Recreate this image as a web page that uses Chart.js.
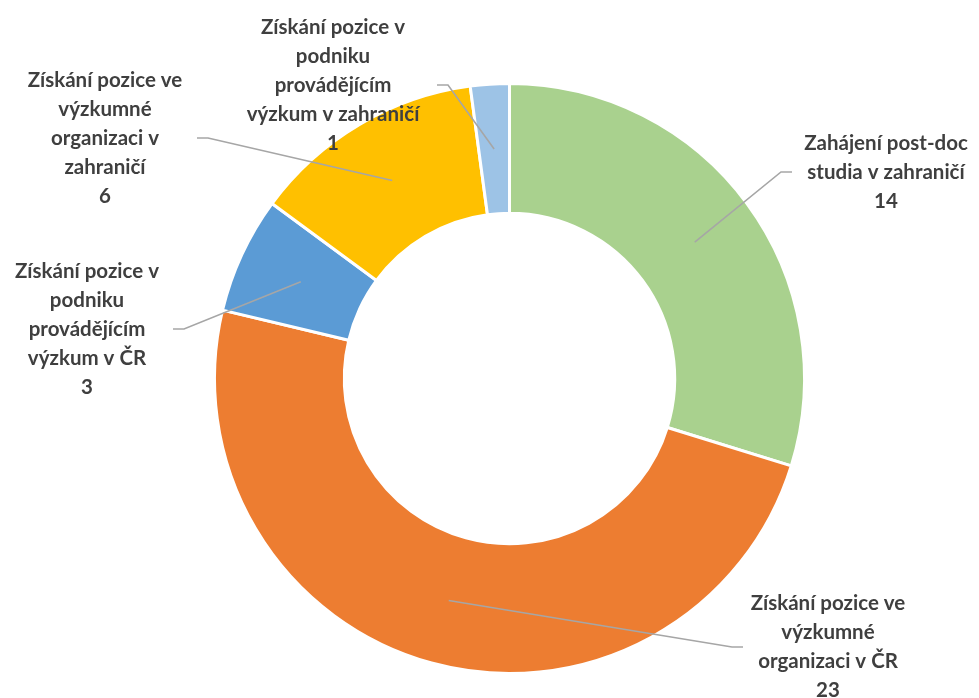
<!DOCTYPE html>
<html>
<head>
<meta charset="utf-8">
<script src="https://cdn.jsdelivr.net/npm/chart.js@4"></script>
<style>
  html, body { margin: 0; padding: 0; background: #ffffff; }
  #wrap { width: 979px; height: 698px; position: relative; }
</style>
</head>
<body>
<div id="wrap"><canvas id="c"></canvas></div>
<script>
// ---- Data ----
const categories = [
  ["Zahájení post-doc", "studia v zahraničí"],
  ["Získání pozice ve", "výzkumné", "organizaci v ČR"],
  ["Získání pozice v", "podniku", "provádějícím", "výzkum v ČR"],
  ["Získání pozice ve", "výzkumné", "organizaci v", "zahraničí"],
  ["Získání pozice v", "podniku", "provádějícím", "výzkum v zahraničí"]
];
const values = [14, 23, 3, 6, 1];
const colors = ["#A9D18E", "#ED7D31", "#5B9BD5", "#FFC000", "#9DC3E6"];

// ---- Label layout (positions only) ----
const labelLayout = [
  { cx: 886, cy: 172, lx: 792, dir: -1 },
  { cx: 828, cy: 647, lx: 743, dir: -1 },
  { cx: 87,  cy: 329, lx: 173, dir: 1 },
  { cx: 105, cy: 138, lx: 197, dir: 1 },
  { cx: 333, cy: 85,  lx: 437, dir: 1 }
];

const calloutPlugin = {
  id: 'callouts',
  afterDatasetsDraw(chart) {
    const ctx = chart.ctx;
    const meta = chart.getDatasetMeta(0);
    const ds = chart.data.datasets[0];
    ctx.save();
    meta.data.forEach((arc, i) => {
      const L = labelLayout[i];
      const p = arc.getProps(['x', 'y', 'startAngle', 'endAngle', 'innerRadius', 'outerRadius'], true);
      const mid = (p.startAngle + p.endAngle) / 2;
      const r = (p.innerRadius + p.outerRadius) / 2;
      const ax = p.x + Math.cos(mid) * r;
      const ay = p.y + Math.sin(mid) * r;
      // leader line
      ctx.strokeStyle = '#A6A6A6';
      ctx.lineWidth = 1.6;
      ctx.beginPath();
      ctx.moveTo(L.lx, L.cy);
      ctx.lineTo(L.lx + L.dir * 11, L.cy);
      ctx.lineTo(ax, ay);
      ctx.stroke();
      // text
      const lines = chart.data.labels[i].concat([String(ds.data[i])]);
      const lh = 29;
      ctx.fillStyle = '#3F3F3F';
      ctx.font = 'bold 20.5px Lato, "Open Sans", sans-serif';
      ctx.textAlign = 'center';
      ctx.textBaseline = 'middle';
      const top = L.cy - (lines.length - 1) * lh / 2;
      lines.forEach((t, k) => ctx.fillText(t, L.cx, top + k * lh));
    });
    ctx.restore();
  }
};

new Chart(document.getElementById('c'), {
  type: 'doughnut',
  data: {
    labels: categories,
    datasets: [{
      data: values,
      backgroundColor: colors,
      borderColor: '#ffffff',
      borderWidth: 3,
      hoverOffset: 0
    }]
  },
  options: {
    responsive: true,
    maintainAspectRatio: false,
    animation: false,
    cutout: '56%',
    layout: { padding: { left: 213, right: 173, top: 82, bottom: 23 } },
    plugins: {
      legend: { display: false },
      tooltip: { enabled: false }
    },
    events: []
  },
  plugins: [calloutPlugin]
});
</script>
</body>
</html>
